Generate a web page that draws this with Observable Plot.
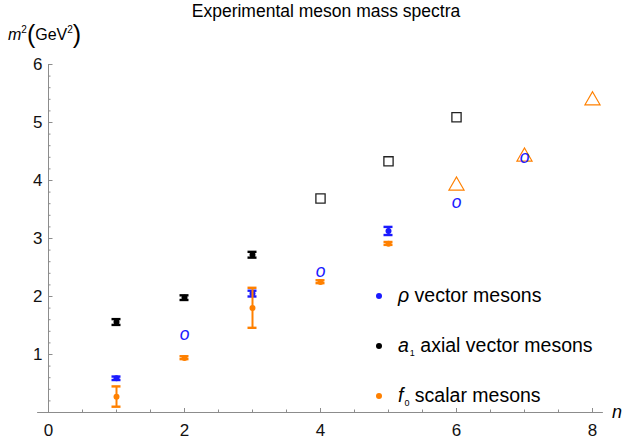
<!DOCTYPE html>
<html>
<head>
<meta charset="utf-8">
<script src="https://cdn.jsdelivr.net/npm/d3@7"></script>
<script src="https://cdn.jsdelivr.net/npm/@observablehq/plot@0.6"></script>
<style>
  html, body { margin: 0; padding: 0; background: #fff; }
  #wrap { position: relative; width: 628px; height: 447px; font-family: "Liberation Sans", Arial, sans-serif; color: #000; overflow: hidden; }
  #wrap svg { position: absolute; left: 0; top: 0; }
  .abs { position: absolute; white-space: nowrap; }
  #title { left: 0; width: 652px; top: 1px; text-align: center; font-size: 17.5px; }
  #ylab { left: 8px; top: 20px; font-size: 16px; }
  #ylab .p { font-size: 25px; vertical-align: -3px; font-weight: 100; }
  sup { font-size: 10px; vertical-align: 7px; line-height: 0; }
  .leg { font-size: 19.5px; left: 398px; }
  .leg i { font-style: italic; }
  .leg .dot { position: absolute; left: -22px; top: 9px; width: 6px; height: 6px; border-radius: 3px; }
  .sub { font-size: 9px; vertical-align: -4px; margin-left: 1px; }
  #nlab { left: 612px; top: 402px; font-size: 18px; font-style: italic; }
</style>
</head>
<body>
<div id="wrap">
  <div id="title" class="abs">Experimental meson mass spectra</div>
  <div id="ylab" class="abs"><i>m</i><sup>2</sup><span class="p">(</span>GeV<sup>2</sup><span class="p">)</span></div>
  <div class="abs leg" style="top:284px"><span class="dot" style="background:#1a1aff"></span><i>ρ</i> vector mesons</div>
  <div class="abs leg" style="top:334px"><span class="dot" style="background:#000"></span><i>a</i><span class="sub">1</span> axial vector mesons</div>
  <div class="abs leg" style="top:384px"><span class="dot" style="background:#ff8000"></span><i>f</i><span class="sub">0</span> scalar mesons</div>
  <div id="nlab" class="abs">n</div>
</div>
<script>
// ---- data ----
// rho vector mesons: measured with error bars
const rhoN   = [1, 3, 5];
const rhoM2  = [0.59, 2.05, 3.13];
const rhoErr = [0.03, 0.05, 0.07];
// rho: less certain states (drawn as "o")
const rhoON  = [2, 4, 6, 7];
const rhoOM2 = [1.33, 2.41, 3.60, 4.38];

// a1 axial vector mesons
const a1N   = [1, 2, 3];
const a1M2  = [1.56, 1.98, 2.72];
const a1Err = [0.05, 0.04, 0.05];
const a1SqN  = [4, 5, 6];
const a1SqM2 = [3.69, 4.33, 5.09];

// f0 scalar mesons
const f0N   = [1, 2, 3, 4, 5];
const f0M2  = [0.27, 0.94, 1.80, 2.25, 2.91];
const f0Lo  = [0.10, 0.92, 1.46, 2.23, 2.89];
const f0Hi  = [0.45, 0.97, 2.15, 2.28, 2.94];
const f0TriN  = [6, 7, 8];
const f0TriM2 = [3.91, 4.41, 5.38];

// axes
const xMajor = [0, 2, 4, 6, 8];
const xMinor = d3.range(0.5, 8.01, 0.5);
const yMajor = [1, 2, 3, 4, 5, 6];
const yMinor = d3.range(0.2, 6.01, 0.2);

// ---- build ----
const BLUE = "#1a1aff", ORANGE = "#ff8000", AX = "#8c8c8c";
const bars = (N, M, lo, hi) => N.map((n, i) => ({n, m: M[i], lo: lo[i], hi: hi[i]}));
const rhoBars = bars(rhoN, rhoM2, rhoM2.map((v,i)=>v-rhoErr[i]), rhoM2.map((v,i)=>v+rhoErr[i]));
const a1Bars  = bars(a1N, a1M2, a1M2.map((v,i)=>v-a1Err[i]), a1M2.map((v,i)=>v+a1Err[i]));
const f0Bars  = bars(f0N, f0M2, f0Lo, f0Hi);
const pts = (N, M) => N.map((n, i) => ({n, m: M[i]}));

function errMarks(data, color) {
  return [
    Plot.ruleX(data, {x: "n", y1: "lo", y2: "hi", stroke: color, strokeWidth: 2}),
    Plot.ruleY(data, {y: "lo", x1: "n", x2: "n", insetLeft: -4.5, insetRight: -4.5, stroke: color, strokeWidth: 2.4}),
    Plot.ruleY(data, {y: "hi", x1: "n", x2: "n", insetLeft: -4.5, insetRight: -4.5, stroke: color, strokeWidth: 2.4}),
    Plot.dot(data, {x: "n", y: "m", r: 3, fill: color, stroke: "none"})
  ];
}

const chart = Plot.plot({
  width: 628, height: 447,
  marginTop: 64, marginBottom: 35, marginLeft: 48, marginRight: 36,
  x: {domain: [0, 8], axis: null},
  y: {domain: [0, 6], axis: null},
  style: {background: "transparent", fontFamily: "Liberation Sans, Arial, sans-serif"},
  marks: [
    // axes lines
    Plot.ruleY([0], {x1: -0.16, x2: 8.16, stroke: AX, strokeWidth: 1}),
    Plot.ruleX([0], {y1: 0, y2: 6, stroke: AX, strokeWidth: 1}),
    // x ticks
    Plot.ruleX(xMinor, {x: d => d, y1: 0, y2: 0, insetBottom: 0, insetTop: -2.5, stroke: AX}),
    Plot.ruleX(xMajor.filter(d => d > 0), {x: d => d, y1: 0, y2: 0, insetTop: -4, stroke: AX}),
    // y ticks
    Plot.ruleY(yMinor, {y: d => d, x1: 0, x2: 0, insetRight: -2.5, stroke: AX}),
    Plot.ruleY(yMajor, {y: d => d, x1: 0, x2: 0, insetRight: -4.5, stroke: AX}),
    // tick labels
    Plot.text(xMajor, {x: d => d, y: 0, text: d => String(d), dy: 18, fontSize: 17, fill: "#111"}),
    Plot.text(yMajor, {x: 0, y: d => d, text: d => String(d), dx: -6, textAnchor: "end", fontSize: 17, fill: "#111"}),
    // data
    ...errMarks(a1Bars, "#000"),
    ...errMarks(rhoBars, BLUE),
    ...errMarks(f0Bars, ORANGE),
    Plot.dot(pts(a1SqN, a1SqM2), {x: "n", y: "m", symbol: "square", r: 5.2, stroke: "#222", strokeWidth: 1.3, fill: "none"}),
    Plot.dot(pts(f0TriN, f0TriM2), {x: "n", y: "m", symbol: "triangle", r: 5.6, stroke: ORANGE, strokeWidth: 1.2, fill: "none"}),
    Plot.text(pts(rhoON, rhoOM2), {x: "n", y: "m", text: () => "o", fill: BLUE, fontSize: 17.5, fontStyle: "italic", dy: -1})
  ]
});
document.getElementById("wrap").prepend(chart);
</script>
</body>
</html>
